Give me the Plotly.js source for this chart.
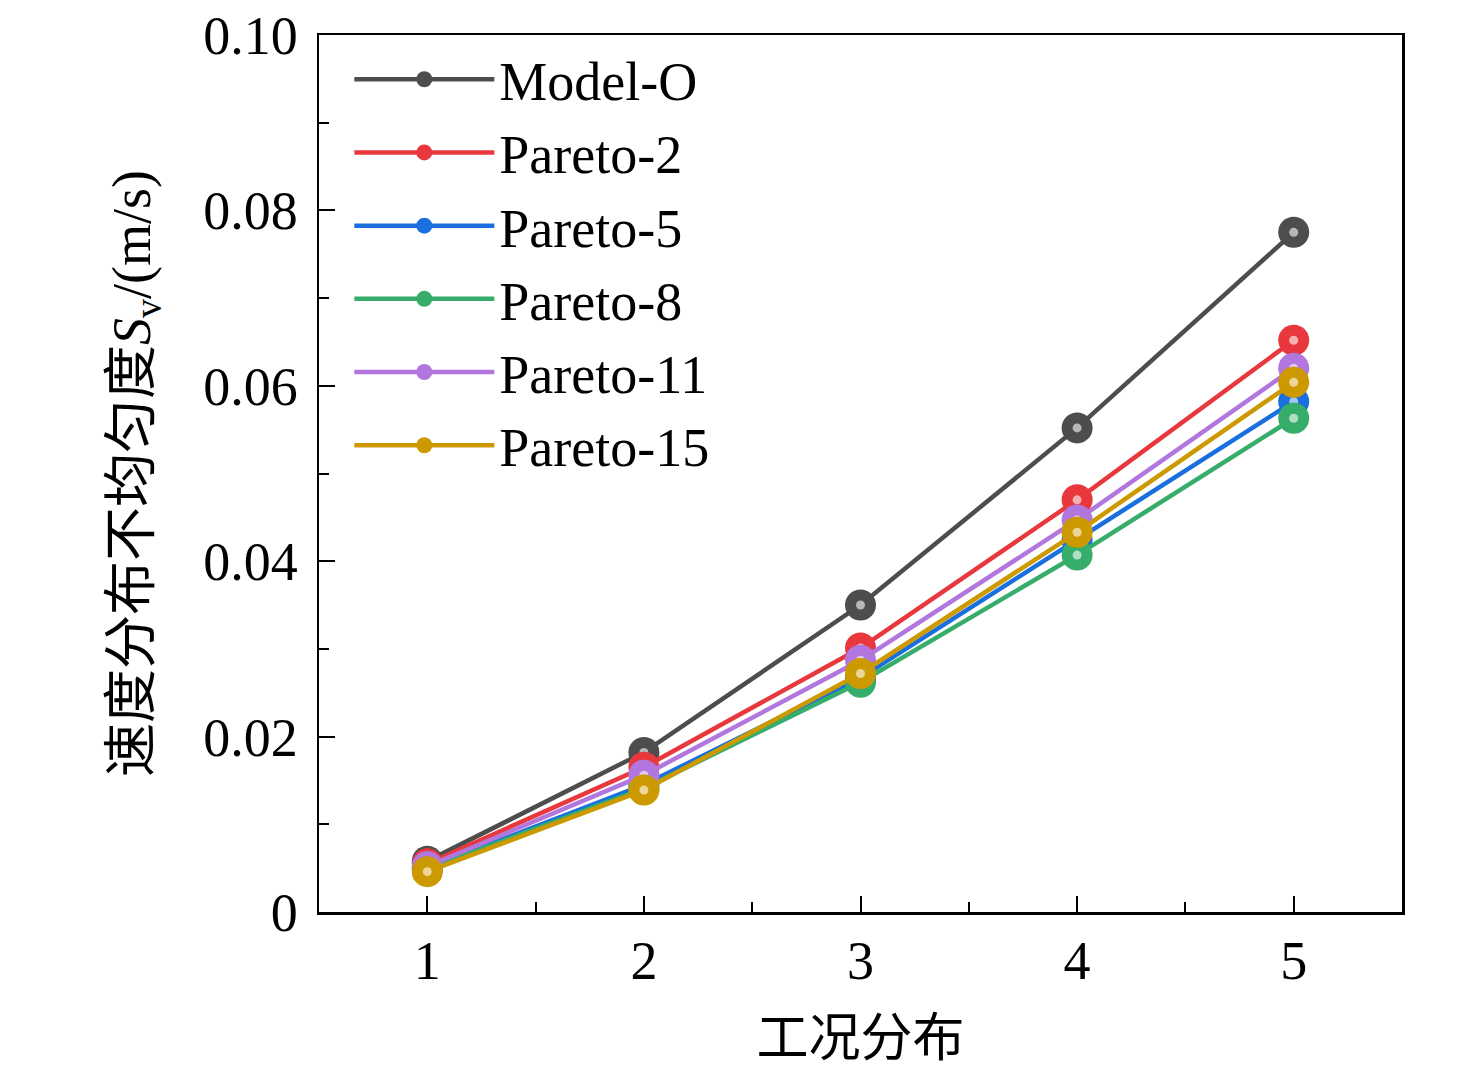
<!DOCTYPE html>
<html>
<head>
<meta charset="utf-8">
<script src="https://cdn.plot.ly/plotly-3.0.1.min.js"></script>
<style>html,body{margin:0;padding:0;background:#fff}#chart{width:1476px;height:1073px}</style>
</head>
<body>
<div id="chart"></div>
<script>
// 工况分布 1..5
const cases = [1, 2, 3, 4, 5];

const modelO = [0.0058, 0.0182, 0.0350, 0.0552, 0.0775];
const pareto2 = [0.0055, 0.0165, 0.0301, 0.0470, 0.0652];
const pareto5 = [0.0050, 0.0145, 0.0267, 0.0424, 0.0582];
const pareto8 = [0.0049, 0.0141, 0.0262, 0.0407, 0.0563];
const pareto11 = [0.0052, 0.0156, 0.0287, 0.0447, 0.0620];
const pareto15 = [0.0046, 0.0139, 0.0272, 0.0433, 0.0604];

const seriesNames = ['Model-O', 'Pareto-2', 'Pareto-5', 'Pareto-8', 'Pareto-11', 'Pareto-15'];
const seriesValues = [modelO, pareto2, pareto5, pareto8, pareto11, pareto15];
const seriesColors = ['#4d4d4d', '#e8383d', '#1a6fdf', '#37ad6b', '#b177de', '#cc9900'];

const yTickVals = [0, 0.02, 0.04, 0.06, 0.08, 0.10];
const yTickText = ['0', '0.02', '0.04', '0.06', '0.08', '0.10'];

const data = [];
seriesNames.forEach((name, i) => {
  data.push({
    x: cases, y: seriesValues[i], name: name, type: 'scatter', mode: 'lines+markers',
    line: { color: seriesColors[i], width: 4.5 },
    marker: { color: seriesColors[i], size: 31 }
  });
  // small glossy highlight on each ball
  data.push({
    x: cases, y: seriesValues[i], type: 'scatter', mode: 'markers', showlegend: false, hoverinfo: 'skip',
    marker: { color: 'rgba(255,255,255,0.6)', size: 9 }
  });
});

const font = { family: 'Liberation Serif, Times New Roman, serif', size: 54, color: '#000' };

const layout = {
  width: 1476, height: 1073,
  paper_bgcolor: '#fff', plot_bgcolor: '#fff',
  font: font,
  margin: { l: 319, r: 74, t: 35, b: 161 },
  showlegend: true,
  legend: {
    x: 0.028, y: 0.997, xanchor: 'left', yanchor: 'top',
    bgcolor: 'rgba(0,0,0,0)', borderwidth: 0,
    font: font, itemwidth: 140, tracegroupgap: 0
  },
  xaxis: {
    range: [0.5, 5.5], tickvals: cases, ticks: 'inside', ticklen: 16, tickwidth: 2, tickcolor: '#000',
    minor: { dtick: 0.5, ticks: 'inside', ticklen: 10, tickwidth: 2, tickcolor: '#000' },
    showline: true, linewidth: 2.5, linecolor: '#000', mirror: true,
    showgrid: false, zeroline: false, ticklabelstandoff: 0,
    title: { text: '工况分布', font: { family: 'Noto Sans CJK SC, serif', size: 52, color: '#000' }, standoff: 30 }
  },
  yaxis: {
    range: [0, 0.1], tickvals: yTickVals, ticktext: yTickText, ticks: 'inside', ticklen: 16, tickwidth: 2, tickcolor: '#000',
    minor: { dtick: 0.01, ticks: 'inside', ticklen: 10, tickwidth: 2, tickcolor: '#000' },
    showline: true, linewidth: 2.5, linecolor: '#000', mirror: true,
    showgrid: false, zeroline: false, ticklabelstandoff: 8,
    title: {
      text: '<span style="font-family:Noto Sans CJK SC">速度分布不均匀度</span><i>S</i><sub>v</sub>/(m/s)',
      font: font, standoff: 36
    }
  }
};

Plotly.newPlot('chart', data, layout, { displayModeBar: false, staticPlot: true });
</script>
</body>
</html>
